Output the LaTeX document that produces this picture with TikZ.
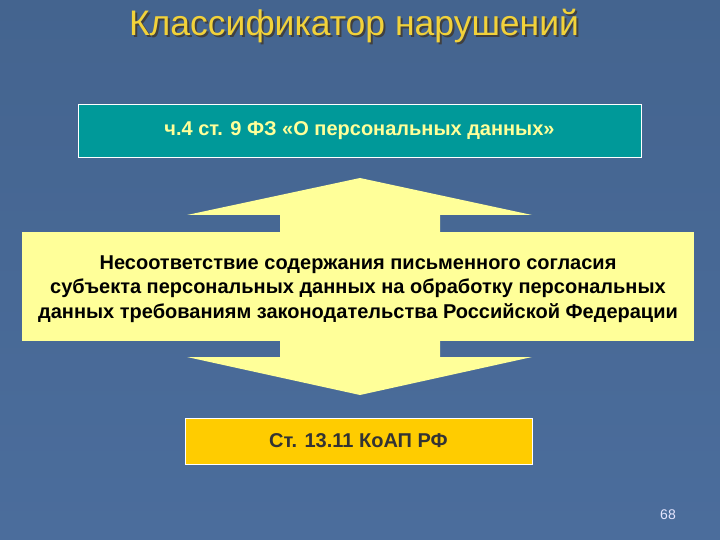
\documentclass[tikz,border=0pt]{standalone}
\usepackage{fontspec}
\setmainfont{Liberation Sans}
\definecolor{bgtop}{HTML}{44648F}
\definecolor{bgmid}{HTML}{5779AA}
\definecolor{bgbot}{HTML}{4B6D9C}
\definecolor{lightyel}{HTML}{FFFF99}
\definecolor{tealbox}{HTML}{009999}
\definecolor{goldbox}{HTML}{FFCC00}
\definecolor{titlecol}{HTML}{F2D23A}
\definecolor{darktext}{HTML}{333333}
\newcommand{\titletext}{Классификатор нарушений}
\begin{document}
\begin{tikzpicture}[x=1pt,y=-1pt,
  box/.style={draw=white, line width=0.8pt, inner sep=0pt, align=center,
    font=\bfseries\fontsize{20}{24.5}\selectfont},
  bigarrow/.style={fill=lightyel, draw=none}]
\useasboundingbox (0,0) rectangle (720,540);
\shade[top color=bgtop, middle color=bgmid, bottom color=bgbot] (0,0) rectangle (720,540);
% title with shadow
\node[font=\fontsize{35.5}{40}\selectfont] (title) at (354,27.5)
  {\rlap{\kern2pt\raisebox{-2pt}{\color{black!75}\titletext}}\color{titlecol}\titletext};
% double arrow
\fill[bigarrow] (280,232) -- (280,215) -- (187,215) -- (360,178) -- (532,215) -- (440,215) -- (440,232) -- cycle;
\fill[bigarrow] (280,340) -- (280,357) -- (187,357) -- (360,395) -- (532,357) -- (440,357) -- (440,340) -- cycle;
% boxes
\node[box, fill=tealbox, text=lightyel, minimum width=563pt, minimum height=53pt] (law) at (359.5,130.5)
  {ч.4 ст. 9 ФЗ «О персональных данных»};
\node[box, draw=none, fill=lightyel, minimum width=672pt, minimum height=109pt] (viol) at (358,286.5) {};
\node[box, draw=none, text=black] (violtext) at (358,289)
  {Несоответствие содержания письменного согласия\\
   субъекта персональных данных на обработку персональных\\
   данных требованиям законодательства Российской Федерации};
\node[box, fill=goldbox, text=darktext, minimum width=347pt, minimum height=46pt] (koap) at (358.5,441)
  {Ст. 13.11 КоАП РФ};
\node[text=white!90!blue, font=\fontsize{14}{16}\selectfont] (pagenum) at (668,515) {68};
\end{tikzpicture}
\end{document}
